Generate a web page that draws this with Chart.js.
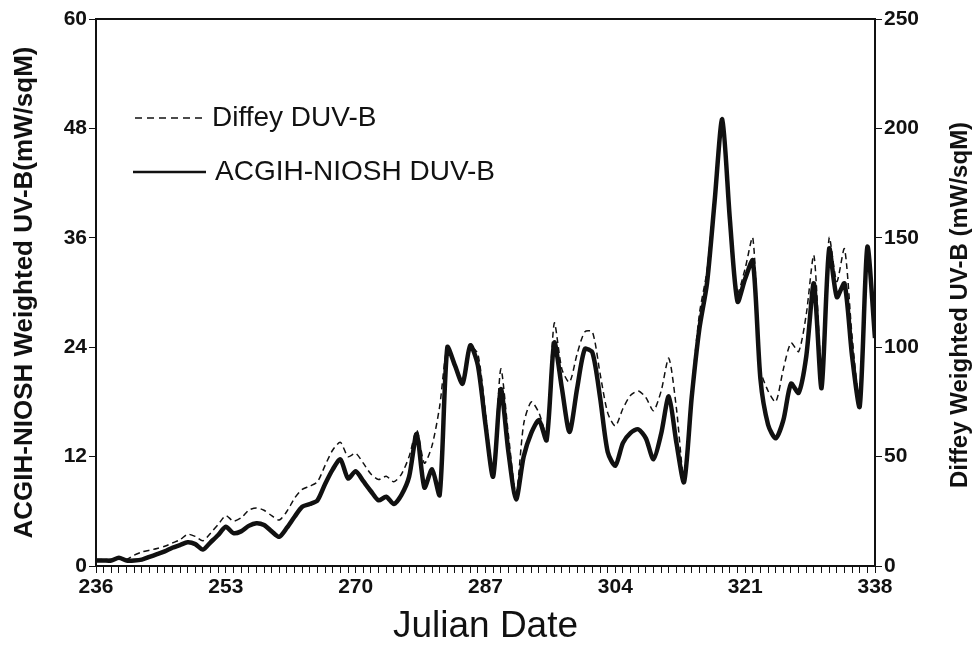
<!DOCTYPE html>
<html>
<head>
<meta charset="utf-8">
<script src="https://cdn.jsdelivr.net/npm/chart.js@4.4.0/dist/chart.umd.min.js"></script>
<style>
  html, body { margin: 0; padding: 0; background: #fff; }
  #wrap { width: 976px; height: 653px; position: relative; }
</style>
</head>
<body>
<div id="wrap"><canvas id="myChart" width="976" height="653"></canvas></div>
<script>
// Julian days 236..338, one reading per day
const firstDay = 236;
const xTickLabels = [236, 253, 270, 287, 304, 321, 338];
const leftTicks = [0, 12, 24, 36, 48, 60];
const rightTicks = [0, 50, 100, 150, 200, 250];

// ACGIH-NIOSH weighted UV-B (left axis, mW/sqM)
const acgih = [
  0.6, 0.6, 0.6, 0.9, 0.6, 0.6, 0.7, 1.0, 1.3, 1.6,
  2.0, 2.3, 2.6, 2.4, 1.8, 2.6, 3.4, 4.3, 3.6, 3.8,
  4.4, 4.7, 4.5, 3.8, 3.2, 4.2, 5.4, 6.5, 6.8, 7.2,
  9.0, 10.6, 11.7, 9.6, 10.4, 9.3, 8.2, 7.2, 7.6, 6.8,
  7.8, 9.8, 14.5, 8.6, 10.6, 7.8, 24.0, 22.0, 20.0, 24.2,
  22.0, 15.5, 9.8, 19.4, 12.5, 7.3, 12.0, 14.6, 16.0, 13.8,
  24.5, 19.5, 14.7, 19.5, 23.8, 23.4, 18.5, 12.5, 11.0, 13.5,
  14.6, 15.0, 14.0, 11.7, 14.5, 18.6, 13.5, 9.2, 18.5, 26.0,
  31.0, 40.0, 49.0, 38.0, 29.0, 31.5, 33.5, 20.5, 15.5, 14.0,
  16.0, 20.0, 19.0, 23.0, 31.0, 19.5, 34.8, 29.5, 31.0, 23.0,
  17.5, 35.0, 25.0
];

// Diffey weighted UV-B (right axis, mW/sqM)
const diffey = [
  3, 3, 3, 4, 3, 5, 6.4, 7.2, 8, 9,
  10.5, 12, 14.5, 13.5, 11.5, 15, 19, 23, 20.5, 22,
  25.5, 26.5, 25.5, 23, 21, 25, 31, 35, 36.5, 38.5,
  46, 53, 56.5, 50, 51.5, 47, 42, 39.5, 41, 38.5,
  42, 50, 62, 47, 55, 73, 100, 92, 84, 100,
  97, 70, 42, 90, 60, 33, 65, 75, 70, 60,
  111, 90, 84, 97, 107, 107, 88, 70, 64, 72,
  78, 80, 77, 71, 80, 95, 72, 40, 80, 115,
  135, 170, 205, 160, 125, 136, 150, 90, 80, 75,
  90, 102, 98, 115, 142, 90, 150, 130, 145, 105,
  75, 145, 104
];

const ink = '#111';
const fam = 'Liberation Sans, Arial, sans-serif';
const tickFont = { family: fam, size: 21, weight: 'bold' };

const acgihPts = acgih.map((v, i) => ({ x: firstDay + i, y: v }));
const diffeyPts = diffey.map((v, i) => ({ x: firstDay + i, y: v }));

// frame, in-plot legend and the right-hand axis title
const decor = {
  id: 'decor',
  afterDraw(chart) {
    const { ctx, chartArea: a } = chart;
    ctx.save();
    ctx.strokeStyle = ink;
    ctx.lineWidth = 2;
    ctx.beginPath();
    ctx.moveTo(a.left, a.top);
    ctx.lineTo(a.right, a.top);
    ctx.stroke();

    // legend
    ctx.fillStyle = ink;
    ctx.font = '28px ' + fam;
    ctx.textBaseline = 'middle';
    ctx.lineWidth = 1.5;
    ctx.setLineDash([7, 5]);
    ctx.beginPath();
    ctx.moveTo(135, 118);
    ctx.lineTo(206, 118);
    ctx.stroke();
    ctx.setLineDash([]);
    ctx.fillText('Diffey DUV-B', 212, 118);
    ctx.lineWidth = 2.5;
    ctx.beginPath();
    ctx.moveTo(133, 172);
    ctx.lineTo(206, 172);
    ctx.stroke();
    ctx.fillText('ACGIH-NIOSH DUV-B', 215, 172);

    // right title reads bottom-to-top
    ctx.translate(960, 305);
    ctx.rotate(-Math.PI / 2);
    ctx.textAlign = 'center';
    ctx.font = 'bold 24px ' + fam;
    ctx.fillText('Diffey Weighted UV-B (mW/sqM)', 0, 0);
    ctx.restore();
  }
};

const ctx = document.getElementById('myChart').getContext('2d');
const myChart = new Chart(ctx, {
  type: 'line',
  data: {
    datasets: [
      {
        label: 'Diffey DUV-B',
        data: diffeyPts,
        yAxisID: 'y1',
        borderColor: ink,
        borderWidth: 1.5,
        borderDash: [6, 4],
        pointRadius: 0,
        tension: 0.25,
        fill: false
      },
      {
        label: 'ACGIH-NIOSH DUV-B',
        data: acgihPts,
        yAxisID: 'y',
        borderColor: ink,
        borderWidth: 4.5,
        pointRadius: 0,
        tension: 0.25,
        fill: false
      }
    ]
  },
  options: {
    responsive: false,
    animation: false,
    layout: { padding: { top: 19, left: 0, right: 0, bottom: 0 } },
    plugins: { legend: { display: false }, tooltip: { enabled: false } },
    scales: {
      x: {
        type: 'linear',
        min: firstDay,
        max: 338,
        afterBuildTicks(scale) {
          const t = [];
          for (let d = firstDay; d <= 338; d++) t.push({ value: d });
          scale.ticks = t;
        },
        afterFit(scale) { scale.height = 87; },
        grid: { drawOnChartArea: false, tickLength: 7, color: ink, lineWidth: 1 },
        border: { color: ink, width: 2 },
        ticks: {
          autoSkip: false,
          maxRotation: 0,
          padding: 2,
          color: ink,
          font: tickFont,
          callback: v => (xTickLabels.includes(v) ? String(v) : '')
        },
        title: {
          display: true,
          text: 'Julian Date',
          color: ink,
          font: { family: fam, size: 37 },
          padding: { top: 0 }
        }
      },
      y: {
        position: 'left',
        min: 0,
        max: 60,
        afterBuildTicks(scale) { scale.ticks = leftTicks.map(v => ({ value: v })); },
        afterFit(scale) { scale.width = 96; },
        grid: { drawOnChartArea: false, tickLength: 7, color: ink },
        border: { color: ink, width: 2 },
        ticks: { color: ink, font: tickFont, padding: 2 },
        title: {
          display: true,
          text: 'ACGIH-NIOSH Weighted UV-B(mW/sqM)',
          color: ink,
          font: { family: fam, size: 26, weight: 'bold' },
          padding: { top: 9, bottom: 0 }
        }
      },
      y1: {
        position: 'right',
        min: 0,
        max: 250,
        afterBuildTicks(scale) { scale.ticks = rightTicks.map(v => ({ value: v })); },
        afterFit(scale) { scale.width = 101; },
        grid: { drawOnChartArea: false, tickLength: 7, color: ink },
        border: { color: ink, width: 2 },
        ticks: { color: ink, font: tickFont, padding: 2 }
      }
    }
  },
  plugins: [decor]
});
</script>
</body>
</html>
